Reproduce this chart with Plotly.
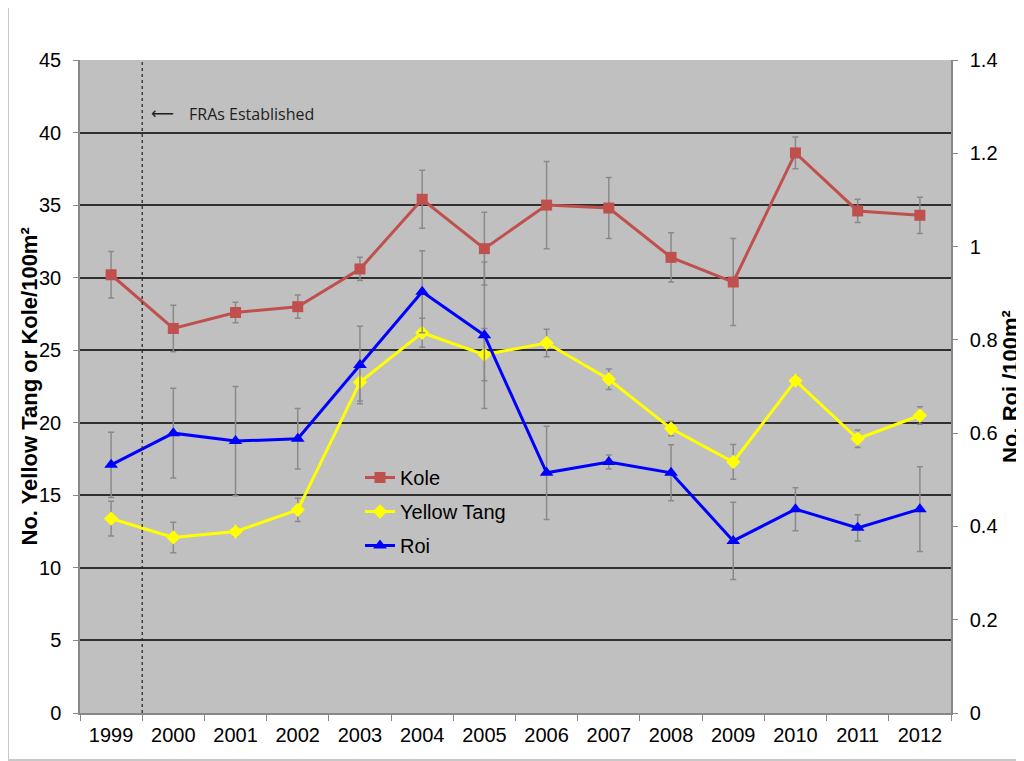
import plotly.graph_objects as go

years = ["1999", "2000", "2001", "2002", "2003", "2004", "2005", "2006",
         "2007", "2008", "2009", "2010", "2011", "2012"]

kole = [30.2, 26.5, 27.6, 28.0, 30.6, 35.4, 32.0, 35.0, 34.8, 31.4, 29.7, 38.6, 34.6, 34.3]
kole_err = [1.6, 1.6, 0.7, 0.8, 0.8, 2.0, 2.5, 3.0, 2.1, 1.7, 3.0, 1.1, 0.8, 1.25]

yellow_tang = [13.4, 12.1, 12.5, 14.0, 22.8, 26.2, 24.7, 25.5, 23.0, 19.6, 17.3, 22.9, 18.9, 20.5]
yellow_tang_err = [1.2, 1.05, 0.3, 0.8, 1.3, 1.0, 1.8, 0.95, 0.7, 0.5, 1.2, 0.3, 0.6, 0.6]

roi = [0.532, 0.60, 0.583, 0.588, 0.746, 0.903, 0.81, 0.515, 0.538, 0.515,
       0.369, 0.437, 0.397, 0.437]
roi_err = [0.07, 0.096, 0.117, 0.065, 0.083, 0.088, 0.157, 0.10, 0.015, 0.06,
           0.083, 0.046, 0.028, 0.091]

left_ticks = [0, 5, 10, 15, 20, 25, 30, 35, 40, 45]
right_ticks = [0, 0.2, 0.4, 0.6, 0.8, 1.0, 1.2, 1.4]
right_ticktext = ["0", "0.2", "0.4", "0.6", "0.8", "1", "1.2", "1.4"]

FONT = "Liberation Sans, Arial, sans-serif"
err_style = dict(type="data", color="#8a8a8a", thickness=1.5, width=3)

fig = go.Figure()
fig.add_trace(go.Scatter(
    x=years, y=kole, name="Kole", mode="lines+markers", legendgroup="a",
    line=dict(color="#c0504d", width=3),
    marker=dict(symbol="square", size=11, color="#c0504d"),
    error_y=dict(array=kole_err, **err_style)))
fig.add_trace(go.Scatter(
    x=years, y=yellow_tang, name="Yellow Tang", mode="lines+markers", legendgroup="b",
    line=dict(color="#ffff00", width=3),
    marker=dict(symbol="diamond", size=11, color="#ffff00"),
    error_y=dict(array=yellow_tang_err, **err_style)))
fig.add_trace(go.Scatter(
    x=years, y=roi, name="Roi", mode="lines+markers", legendgroup="c", yaxis="y2",
    line=dict(color="#0000ff", width=3),
    marker=dict(symbol="triangle-up", size=12, color="#0000ff"),
    error_y=dict(array=roi_err, **err_style)))

fig.add_shape(type="line", xref="x", yref="y domain", x0=0.5, x1=0.5, y0=0, y1=1,
              line=dict(color="#202020", width=1.2, dash="3px,3px"))
fig.add_shape(type="rect", xref="paper", yref="paper",
              x0=-72 / 871, x1=1.2, y0=-47 / 653, y1=1 + 53 / 653,
              line=dict(color="#c8c8c8", width=2), layer="below")

fig.add_annotation(x=0.5, y=41.3, xref="x", yref="y", xanchor="left", yanchor="middle",
                   xshift=7, showarrow=False, text="⟵",
                   font=dict(family="DejaVu Sans", size=16, color="#202020"))
fig.add_annotation(x=0.5, y=41.3, xref="x", yref="y", xanchor="left", yanchor="middle",
                   xshift=45, showarrow=False, text="FRAs Established",
                   font=dict(family="Open Sans, sans-serif", size=16, color="#202020"))

# left axis title placed as rotated text
fig.add_annotation(x=(29 - 80) / 871, y=0.5, xref="paper", yref="paper",
                   xanchor="center", yanchor="middle", showarrow=False, textangle=-90,
                   text="<b>No. Yellow Tang or Kole/100m²</b>",
                   font=dict(family=FONT, size=22, color="black"))

fig.update_layout(
    width=1024, height=761,
    margin=dict(l=72, r=81, t=52, b=56),
    paper_bgcolor="white", plot_bgcolor="#c0c0c0",
    font=dict(family=FONT, size=20, color="black"),
    showlegend=True,
    legend=dict(x=(360 - 80) / 871, y=(713 - 458) / 653, xanchor="left", yanchor="top",
                bgcolor="rgba(0,0,0,0)", font=dict(size=20, family=FONT),
                traceorder="grouped", tracegroupgap=5, itemwidth=30),
    xaxis=dict(type="category", range=[-0.5, 13.5], tickson="boundaries",
               ticks="outside", ticklen=6, tickcolor="#888", showline=True,
               linecolor="#888", linewidth=1.5, showgrid=False,
               tickfont=dict(size=20), ticklabelstandoff=3),
    yaxis=dict(range=[0, 45], tickvals=left_ticks, showgrid=True,
               gridcolor="#303030", gridwidth=1.5, showline=True, linecolor="#888",
               linewidth=1.5, ticks="outside", ticklen=5, tickcolor="#888",
               zeroline=False, tickfont=dict(size=20), ticklabelstandoff=8),
    yaxis2=dict(range=[0, 1.4], tickvals=right_ticks, ticktext=right_ticktext,
                overlaying="y", side="right", showgrid=False, showline=True,
                linecolor="#888", linewidth=1.5, ticks="outside", ticklen=5,
                tickcolor="#888", zeroline=False, tickfont=dict(size=20),
                ticklabelstandoff=8,
                title=dict(text="<b>No. Roi /100m²</b>", standoff=4,
                           font=dict(size=22))),
)

fig.write_html("out.html")
